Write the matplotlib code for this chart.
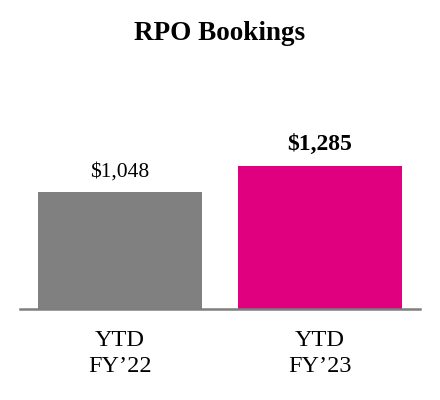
import matplotlib.pyplot as plt

categories = ["YTD\nFY\u201922", "YTD\nFY\u201923"]
bookings = [1048, 1285]
value_labels = ["$1,048", "$1,285"]
colors = ["#808080", "#E0007F"]

plt.rcParams["font.family"] = ["Liberation Serif", "DejaVu Serif"]

fig = plt.figure(figsize=(4.4, 4.0), dpi=100)
ax = fig.add_axes([20 / 440, 91 / 400, 400 / 440, 200 / 400])

x = range(len(categories))
ax.bar(x, bookings, width=0.82, color=colors)

for i, (v, label) in enumerate(zip(bookings, value_labels)):
    bold = i == 1
    ax.text(i, v + 95, label, ha="center", va="bottom",
            fontsize=17 if bold else 15.5,
            fontweight="bold" if bold else "normal")

ax.set_xlim(-0.5, 1.5)
ax.set_ylim(0, 1792)
ax.set_xticks(list(x))
ax.set_xticklabels(categories, fontsize=17.5, linespacing=1.3)
ax.tick_params(axis="x", length=0, pad=15)
ax.set_yticks([])

for side in ["top", "right", "left"]:
    ax.spines[side].set_visible(False)
ax.spines["bottom"].set_color("#7f7f7f")
ax.spines["bottom"].set_linewidth(1.8)

fig.text(0.5, 367 / 400, "RPO Bookings", ha="center", va="center",
         fontsize=19.5, fontweight="bold")

fig.savefig("out.png", dpi=100)
